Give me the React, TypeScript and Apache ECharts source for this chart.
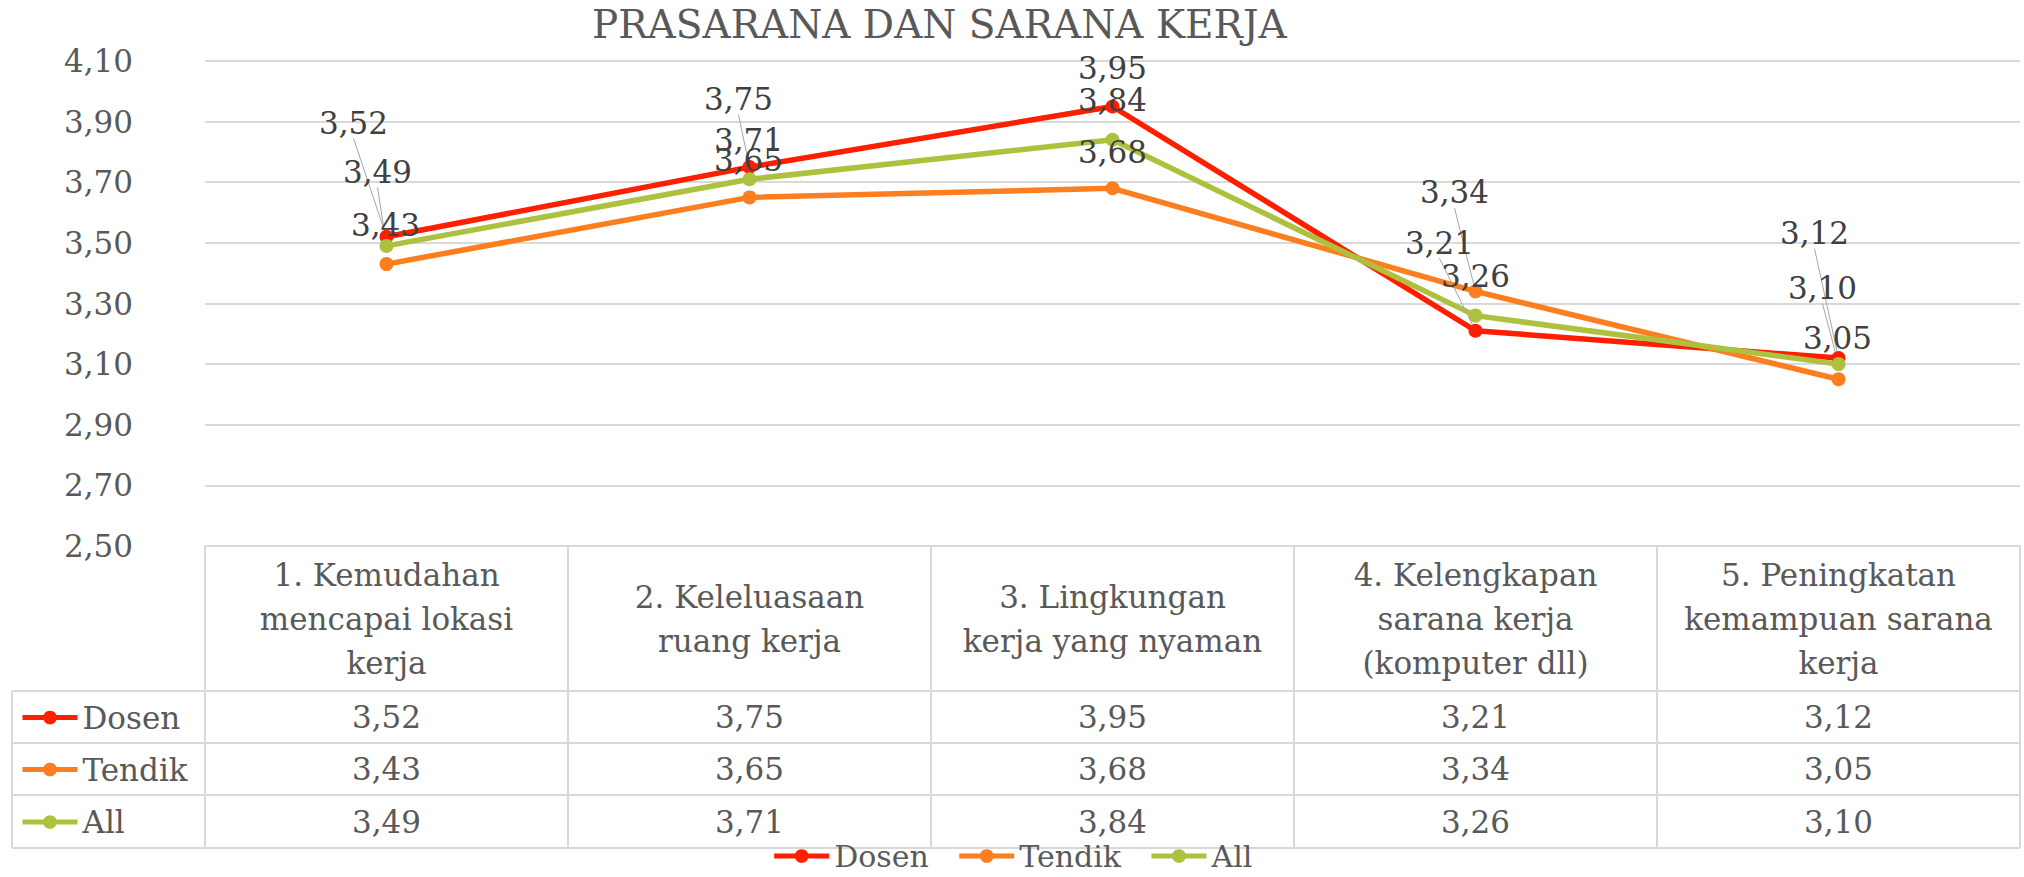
import React, { useEffect, useRef } from "react";
import * as echarts from "echarts";

// ---------- data ----------
const categories = [
  "1. Kemudahan\nmencapai lokasi\nkerja",
  "2. Keleluasaan\nruang kerja",
  "3. Lingkungan\nkerja yang nyaman",
  "4. Kelengkapan\nsarana kerja\n(komputer dll)",
  "5. Peningkatan\nkemampuan sarana\nkerja",
];
const seriesNames = ["Dosen", "Tendik", "All"];
const dosen = [3.52, 3.75, 3.95, 3.21, 3.12];
const tendik = [3.43, 3.65, 3.68, 3.34, 3.05];
const all = [3.49, 3.71, 3.84, 3.26, 3.1];
const yMin = 2.5;
const yMax = 4.1;
const yStep = 0.2;

// ---------- style / layout ----------
const W = 2024;
const H = 877;
const FONT = '"DejaVu Serif", serif';
const COLORS = ["#ff1e00", "#fd7e1e", "#adc13f"];
const TEXT = "#595959";
const LABEL = "#404040";
const GRID = "#d9d9d9";
const PLOT_L = 205;
const PLOT_R = 2020;
const PLOT_T = 61;
const PLOT_B = 546;
const TABLE_L = 12;
const ROW_LINES = [691, 743, 795, 848]; // header bottom, then row bottoms
// label offsets (dx, dy) from each point, per series
const LABEL_OFFSETS = [
  [[-33, -114], [-11, -68], [0, -38], [-36, -88], [-24, -125]],
  [[-1, -39], [-1, -37], [0, -36], [-21, -99], [-1, -41]],
  [[-9, -74], [-1, -39], [0, -40], [0, -40], [-16, -76]],
];

const fmt = (v: number) => v.toFixed(2).replace(".", ",");

export default function App() {
  const ref = useRef<HTMLDivElement>(null);

  useEffect(() => {
    if (!ref.current) return;
    const chart = echarts.init(ref.current, undefined, { renderer: "svg" });
    const values = [dosen, tendik, all];

    const lineStyle = { color: GRID, width: 2 };

    const dataAxes = values.map((vals, i) => {
      const top = ROW_LINES[i];
      const h = ROW_LINES[i + 1] - ROW_LINES[i];
      return {
        type: "category",
        data: vals.map(fmt),
        position: "bottom",
        offset: top - PLOT_B,
        boundaryGap: true,
        axisLine: { show: false },
        axisTick: { show: true, length: h, interval: 0, lineStyle },
        axisLabel: {
          interval: 0,
          margin: h / 2,
          verticalAlign: "middle",
          fontSize: 31,
          color: TEXT,
          fontFamily: FONT,
        },
        splitLine: { show: false },
      };
    });

    const legendCommon = {
      itemWidth: 55,
      itemHeight: 17,
      padding: 0,
      selectedMode: false,
      lineStyle: { width: 5 },
      textStyle: { fontSize: 31, lineHeight: 30, color: TEXT, fontFamily: FONT },
    };

    const rowLegends = seriesNames.map((name, i) => ({
      ...legendCommon,
      data: [name],
      left: 20,
      top: (ROW_LINES[i] + ROW_LINES[i + 1]) / 2 - 15,
    }));

    const graphicLines: any[] = ROW_LINES.map((y) => ({
      type: "line",
      shape: { x1: TABLE_L, y1: y, x2: PLOT_R, y2: y },
      style: { stroke: GRID, lineWidth: 2 },
      z: 1,
    }));
    graphicLines.push({
      type: "line",
      shape: { x1: TABLE_L, y1: ROW_LINES[0], x2: TABLE_L, y2: ROW_LINES[3] },
      style: { stroke: GRID, lineWidth: 2 },
      z: 1,
    });

    const series = values.map((vals, s) => ({
      name: seriesNames[s],
      type: "line",
      xAxisIndex: 0,
      yAxisIndex: 0,
      data: vals.map((v, i) => ({
        value: v,
        labelLine: { show: LABEL_OFFSETS[s][i][1] < -55 },
      })),
      color: COLORS[s],
      symbol: "circle",
      symbolSize: 14,
      lineStyle: { width: 5.5, color: COLORS[s] },
      itemStyle: { color: COLORS[s] },
      label: {
        show: true,
        position: "inside",
        formatter: (p: any) => fmt(p.value),
        fontSize: 31,
        color: LABEL,
        fontFamily: FONT,
        textBorderWidth: 0,
      },
      labelLine: { lineStyle: { color: "#a6a6a6", width: 1 } },
      labelLayout: (p: any) => ({
        dx: LABEL_OFFSETS[s][p.dataIndex][0],
        dy: LABEL_OFFSETS[s][p.dataIndex][1],
      }),
      emphasis: { disabled: true },
    }));

    chart.setOption({
      animation: false,
      textStyle: { fontFamily: FONT },
      title: {
        text: "PRASARANA DAN SARANA KERJA",
        left: 592,
        top: 5,
        padding: 0,
        textStyle: { fontSize: 39, fontWeight: "normal", color: TEXT, fontFamily: FONT },
      },
      grid: { left: PLOT_L, right: W - PLOT_R, top: PLOT_T, bottom: H - PLOT_B },
      legend: [
        ...rowLegends,
        {
          ...legendCommon,
          textStyle: { fontSize: 30, lineHeight: 30, color: TEXT, fontFamily: FONT },
          data: seriesNames,
          left: "center",
          top: 841,
          itemGap: 28,
        },
      ],
      xAxis: [
        {
          type: "category",
          data: categories,
          position: "bottom",
          boundaryGap: true,
          axisLine: { show: true, lineStyle },
          axisTick: { show: true, length: ROW_LINES[0] - PLOT_B, interval: 0, lineStyle },
          axisLabel: {
            interval: 0,
            margin: (ROW_LINES[0] - PLOT_B) / 2,
            verticalAlign: "middle",
            fontSize: 31,
            lineHeight: 44,
            color: TEXT,
            fontFamily: FONT,
          },
          splitLine: { show: false },
        },
        ...dataAxes,
      ],
      yAxis: {
        type: "value",
        min: yMin,
        max: yMax,
        interval: yStep,
        axisLine: { show: false },
        axisTick: { show: false },
        splitLine: { lineStyle },
        axisLabel: {
          formatter: (v: number) => fmt(v),
          fontSize: 31,
          color: TEXT,
          margin: 72,
          fontFamily: FONT,
        },
      },
      graphic: graphicLines,
      series,
    });

    return () => chart.dispose();
  }, []);

  return (
    <div
      ref={ref}
      style={{ position: "absolute", left: 0, top: 0, width: W, height: H, background: "#fff" }}
    />
  );
}
